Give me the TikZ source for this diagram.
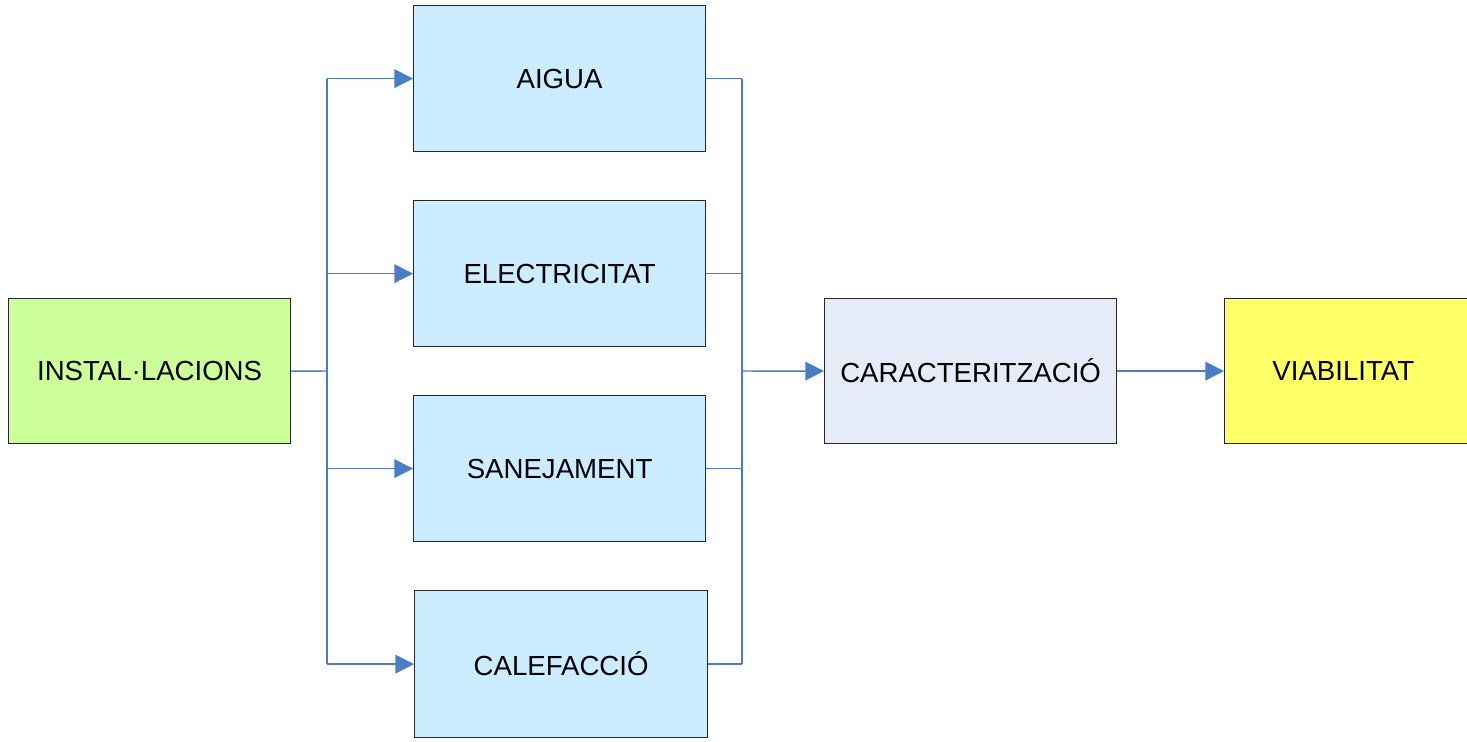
\documentclass[tikz,border=0pt]{standalone}
\usepackage{fontspec}
\setmainfont{Liberation Sans}
\usetikzlibrary{arrows.meta}
\definecolor{lineblue}{HTML}{4A7CC8}
\definecolor{boxblue}{HTML}{CCECFF}
\definecolor{boxgreen}{HTML}{CCFF99}
\definecolor{boxgrey}{HTML}{E6ECF7}
\definecolor{boxyellow}{HTML}{FFFF66}
\tikzset{
  blk/.style={draw=black!85, line width=0.9pt, minimum width=292*0.75pt, minimum height=146*0.75pt, inner sep=0pt, anchor=north west, font=\fontsize{20.7}{24}\selectfont},
  conn/.style={draw=lineblue, line width=1.1pt},
  arr/.style={conn, -{Triangle[length=14pt,width=14pt]}}
}
\begin{document}
\begin{tikzpicture}[x=0.75pt,y=-0.75pt]
\useasboundingbox (0,0) rectangle (1467,742);
\node[blk, fill=boxgreen, minimum width=282*0.75pt, minimum height=145*0.75pt] (inst) at (8,298) {INSTAL·LACIONS};
\node[blk, fill=boxblue] (aigua) at (413,5) {AIGUA};
\node[blk, fill=boxblue] (elec) at (413,200) {ELECTRICITAT};
\node[blk, fill=boxblue] (sane) at (413,395) {SANEJAMENT};
\node[blk, fill=boxblue, minimum width=293*0.75pt, minimum height=147*0.75pt] (calef) at (414,590) {CALEFACCIÓ};
\node[blk, fill=boxgrey, minimum height=145*0.75pt] (car) at (824,298) {CARACTERITZACIÓ};
\node[blk, fill=boxyellow, minimum width=260*0.75pt, minimum height=145*0.75pt] (viab) at (1224,298) {\hspace*{-17pt}VIABILITAT};
\coordinate (lj) at (327,371);
\coordinate (rj) at (742,371);
\draw[conn] (inst.east) -- (lj);
\draw[conn] (lj |- aigua.west) -- (lj |- calef.west);
\draw[arr] (lj |- aigua.west) -- (aigua.west);
\draw[arr] (lj |- elec.west) -- (elec.west);
\draw[arr] (lj |- sane.west) -- (sane.west);
\draw[arr] (lj |- calef.west) -- (calef.west);
\draw[conn] (aigua.east) -- (rj |- aigua.east);
\draw[conn] (elec.east) -- (rj |- elec.east);
\draw[conn] (sane.east) -- (rj |- sane.east);
\draw[conn] (calef.east) -- (rj |- calef.east);
\draw[conn] (rj |- aigua.east) -- (rj |- calef.east);
\draw[arr] (rj) -- (car.west);
\draw[arr] (car.east) -- (viab.west);
\end{tikzpicture}
\end{document}
